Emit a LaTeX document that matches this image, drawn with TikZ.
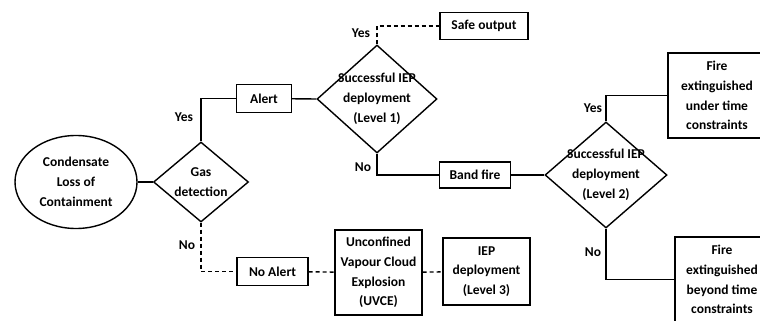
\documentclass[tikz,border=0pt]{standalone}
\usepackage{fontspec}
\setmainfont{Carlito}
\usetikzlibrary{shapes.geometric}
\begin{document}
\begin{tikzpicture}[x=1pt, y=-1pt, line width=1.4pt,
  every node/.style={font=\bfseries\fontsize{13.5}{19.8}\selectfont},
  box/.style={draw, rectangle, align=center, inner sep=0pt},
  decision/.style={draw, diamond, inner sep=0pt},
  nopath/.style={dash pattern=on 4pt off 3pt}]
  \useasboundingbox [fill=white] (0,0) rectangle (760,321);
  \node [draw, ellipse, align=center, inner sep=0pt, minimum width=122pt, minimum height=93pt] (clc) at (76,182) {Condensate\\Loss of\\Containment};
  \node [decision, minimum width=95pt, minimum height=80pt, label={[align=center]center:Gas\\detection}] (gas) at (201,182) {};
  \node [box, minimum width=55pt, minimum height=28pt] (alert) at (264,98.5) {Alert};
  \node [decision, minimum width=120pt, minimum height=108pt, label={[align=center]center:Successful IEP\\deployment\\(Level 1)}] (iep1) at (377,99) {};
  \node [box, minimum width=88pt, minimum height=27pt] (safe) at (484,26) {Safe output};
  \node [box, minimum width=71pt, minimum height=26pt] (band) at (475,175) {Band fire};
  \node [decision, minimum width=122pt, minimum height=106pt, label={[align=center]center:Successful IEP\\deployment\\(Level 2)}] (iep2) at (606,175) {};
  \node [box, minimum width=98pt, minimum height=85pt] (fireA) at (717,95.5) {Fire\\extinguished\\under time\\constraints};
  \node [box, minimum width=94pt, minimum height=85pt] (fireB) at (722,279.5) {Fire\\extinguished\\beyond time\\constraints};
  \node [box, minimum width=71pt, minimum height=28pt] (noalert) at (272.5,271.5) {No Alert};
  \node [box, minimum width=87pt, minimum height=85pt] (uvce) at (378.5,272.5) {Unconfined\\Vapour Cloud\\Explosion\\(UVCE)};
  \node [box, minimum width=87pt, minimum height=67pt] (iep3) at (486.5,271.5) {IEP\\deployment\\(Level 3)};
  \node (yes1) at (184,117) {Yes};
  \node (no1) at (187,245) {No};
  \node (yes2) at (361,33) {Yes};
  \node (no2) at (363,167) {No};
  \node (yes3) at (593,108) {Yes};
  \node (no3) at (593,252) {No};
  \draw (clc) -- (gas.west);
  \draw (gas.north) |- (alert.west);
  \draw (alert) -- (iep1.west);
  \draw [nopath] (iep1.north) |- (safe.west);
  \draw (iep1.south) |- (band.west);
  \draw (band) -- (iep2.west);
  \draw (iep2.north) |- (fireA.west);
  \draw (iep2.south) |- (fireB.west);
  \draw [nopath] (gas.south) |- (noalert.west);
  \draw [nopath] (noalert) -- (uvce);
  \draw [nopath] (uvce) -- (iep3);
\end{tikzpicture}
\end{document}
